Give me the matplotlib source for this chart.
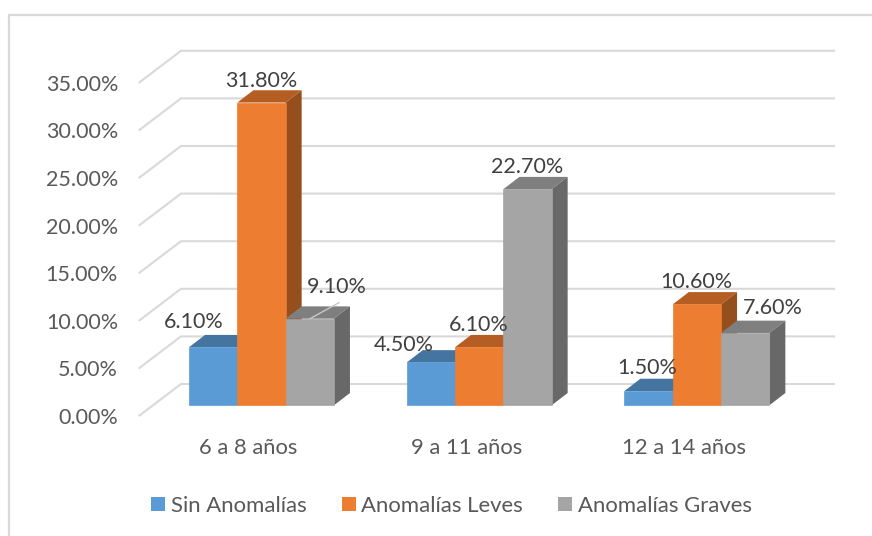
import matplotlib
matplotlib.use('Agg')
import matplotlib.pyplot as plt
from matplotlib.lines import Line2D
from matplotlib.patches import Patch, Polygon

plt.rcParams['font.family'] = ['Lato', 'DejaVu Sans']

categories = ['6 a 8 años', '9 a 11 años', '12 a 14 años']
series_names = ['Sin Anomalías', 'Anomalías Leves', 'Anomalías Graves']
sin_anomalias = [6.1, 4.5, 1.5]
anomalias_leves = [31.8, 6.1, 10.6]
anomalias_graves = [9.1, 22.7, 7.6]
y_ticks = [0, 5, 10, 15, 20, 25, 30, 35]

series = [sin_anomalias, anomalias_leves, anomalias_graves]
front_colors = ['#5B9BD5', '#ED7D31', '#A5A5A5']
top_colors = ['#4474A0', '#B55E23', '#7F7F7F']
side_colors = ['#3F6C95', '#954F1C', '#686868']

# label offsets from the bar top centre, in pixels (right, up)
label_offsets = [
    [(-19.5, 25), (0, 22), (27, 32)],
    [(-27.5, 17.5), (0, 22.5), (0, 22)],
    [(-1, 23), (-1, 22.5), (28, 25)],
]

W, H = 872, 536
PX_X = 217.7  # pixels per group
PX_Y = 9.52  # pixels per percent
X0, Y0 = 261.5, 405.3  # pixel of first group centre, bar base

bar_w = 48.3 / PX_X
depth_x = 16 / PX_X
depth_y = 12.3 / PX_Y


def px_x(n):
    return n / PX_X


def px_y(n):
    return n / PX_Y


fig = plt.figure(figsize=(W / 100, H / 100), dpi=100)
ax = fig.add_axes([0, 0, 1, 1])
ax.set_xlim(-X0 / PX_X, (W - X0) / PX_X)
ax.set_ylim((Y0 - H) / PX_Y, Y0 / PX_Y)
ax.axis('off')

# chart frame, only left and top fall inside the picture
fig.add_artist(Line2D([9 / W, 9 / W, 1], [0, 1 - 15 / H, 1 - 15 / H], transform=fig.transFigure,
                      color='#D9D9D9', linewidth=1.6, solid_joinstyle='miter'))

# walls
wall_left = px_x(181 - X0)
wall_right = px_x(834 - X0)
front_left = px_x(139.5 - X0)
back_off = px_y(Y0 - 384)
front_off = px_y(Y0 - 415.5)
for v in y_ticks:
    ax.plot([front_left, wall_left, wall_right],
            [v + front_off, v + back_off, v + back_off],
            color='#D9D9D9', linewidth=1.5, zorder=1, solid_joinstyle='miter')
    ax.text(px_x(118 - X0), v + px_y(Y0 - 418), f'{v:.2f}%', ha='right', va='center',
            fontsize=15.5, color='#595959')

# bars, left to right so each one hides the side of the previous
z = 2
for g in range(len(categories)):
    for s in range(len(series)):
        v = series[s][g]
        x = g + (s - 1) * bar_w
        left, right = x - bar_w / 2, x + bar_w / 2
        ax.add_patch(Polygon([(left, v), (right, v), (right + depth_x, v + depth_y), (left + depth_x, v + depth_y)],
                             facecolor=top_colors[s], edgecolor='none', zorder=z))
        ax.add_patch(Polygon([(right, 0), (right + depth_x, depth_y), (right + depth_x, v + depth_y), (right, v)],
                             facecolor=side_colors[s], edgecolor='none', zorder=z))
        ax.bar(x, v, width=bar_w, color=front_colors[s], edgecolor=front_colors[s], linewidth=0.5, zorder=z + 0.5)
        dx, dy = label_offsets[g][s]
        ax.annotate(f'{v:.2f}%', xy=(x, v), xytext=(dx, dy), textcoords='offset pixels',
                    ha='center', va='center', fontsize=15.5, color='#404040', zorder=50)
        z += 1

# leader line of the 9.10% label
ax.plot([px_x(310 - X0), px_x(339 - X0)], [anomalias_graves[0], anomalias_graves[0] + px_y(16)],
        color='#C8C8C8', linewidth=1, zorder=40)

for g, name in enumerate(categories):
    ax.text(g - px_x(13), px_y(Y0 - 448), name, ha='center', va='center', fontsize=15.8, color='#595959')

handles = [Patch(facecolor=c, edgecolor='none') for c in front_colors]
ax.legend(handles, series_names, ncol=3, frameon=False, loc='center', fontsize=15.9,
          labelcolor='#595959', handlelength=0.63, handleheight=0.63, handletextpad=0.25,
          columnspacing=1.6, bbox_to_anchor=(451.5 / W, 1 - 506 / H), bbox_transform=fig.transFigure)

fig.savefig('out.png', dpi=100, facecolor='white')
